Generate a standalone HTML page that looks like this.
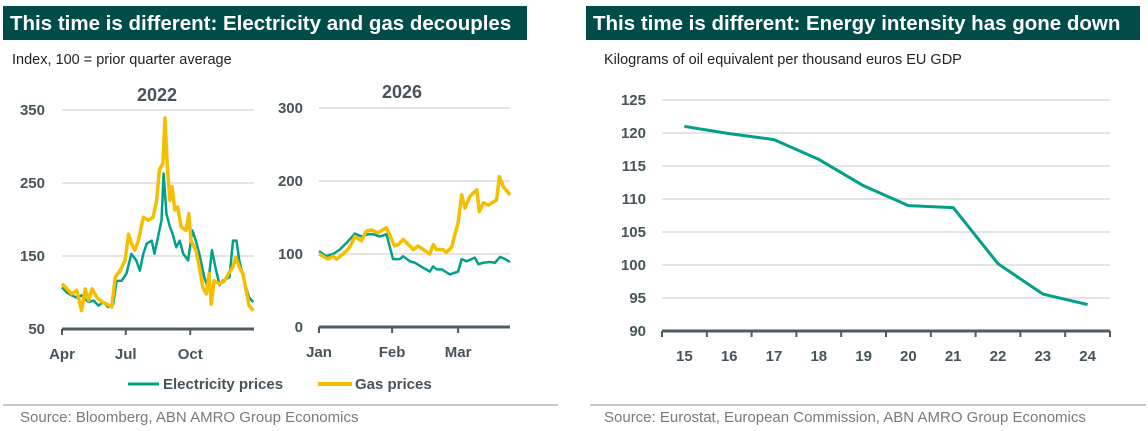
<!DOCTYPE html>
<html><head><meta charset="utf-8"><style>
body{margin:0;background:#fff;width:1148px;height:431px;overflow:hidden;font-family:"Liberation Sans",sans-serif}
svg{display:block}
.hd{font-weight:bold;font-size:20.5px;fill:#fff}
.tk{font-size:15px;font-weight:bold;fill:#46545a}
.sub{font-size:14.5px;fill:#222}
.src{font-size:15px;fill:#7a7a7a}
</style></head><body>
<svg id="c" width="1148" height="431">
<rect x="3" y="6" width="524" height="34" fill="#004c48"/>
<text x="10" y="30" class="hd">This time is different: Electricity and gas decouples</text>
<rect x="586" y="6" width="554" height="34" fill="#004c48"/>
<text x="593" y="30" class="hd">This time is different: Energy intensity has gone down</text>
<text x="12" y="64" class="sub">Index, 100 = prior quarter average</text>
<text x="604" y="64" class="sub">Kilograms of oil equivalent per thousand euros EU GDP</text>
<text x="157" y="101" class="tk" style="font-size:18px" text-anchor="middle">2022</text>
<text x="402" y="98" class="tk" style="font-size:18px" text-anchor="middle">2026</text>
<g id="g1"></g><g id="g2"></g><g id="g3"></g>
<line x1="128" y1="384" x2="159" y2="384" stroke="#00a08a" stroke-width="3"/>
<text x="163" y="389" class="tk">Electricity prices</text>
<line x1="318" y1="384" x2="352" y2="384" stroke="#f5bf00" stroke-width="4"/>
<text x="355" y="389" class="tk">Gas prices</text>
<line x1="3" y1="405" x2="558" y2="405" stroke="#c8c8c8" stroke-width="2"/>
<line x1="590" y1="405" x2="1146" y2="405" stroke="#c8c8c8" stroke-width="2"/>
<text x="20" y="422" class="src">Source: Bloomberg, ABN AMRO Group Economics</text>
<text x="604" y="422" class="src">Source: Eurostat, European Commission, ABN AMRO Group Economics</text>
</svg>
<script>
const gas22Days=[0,7,14,21,28,33,38,43,50,57,64,71,76,83,90,95,99,104,109,116,123,130,135,139,144,147,150,154,157,161,165,170,177,181,184,191,196,201,206,210,213,217,225,232,239,244,248,253,258,262,267,273];
const gas22Vals=[112,105,98,103,75,105,89,105,93,87,84,80,121,130,144,180,167,158,171,203,199,203,226,268,277,339,277,226,245,213,217,190,185,208,171,158,135,107,98,126,84,116,112,116,128,135,148,135,126,107,82,75];
const el22Days=[0,7,14,21,28,33,38,45,52,59,66,73,78,85,92,99,106,111,116,121,128,132,137,142,145,149,154,158,163,168,173,180,182,186,191,196,203,208,214,220,225,229,239,244,249,253,260,267,273];
const el22Vals=[107,100,96,93,96,91,87,89,82,87,80,84,116,116,126,153,144,130,153,167,171,153,176,199,263,208,190,180,162,171,153,144,158,185,171,153,121,107,158,130,110,116,121,171,171,144,116,93,87];
const gas26Days=[0,3.8,6,7.4,10.2,13,15.2,18,20,22.2,25,28.6,32,33.6,35.7,40,42,47,48.5,49.8,52.7,54,56.2,59,60.5,61.9,64,66.9,68,69.7,71.8,75.3,76.5,78.2,81];
const gas26Vals=[100,93,97,93,100,109,124,118,131,133,129,136,111,113,120,106,111,100,113,106,106,102,109,143,181,163,179,188,158,170,167,174,206,192,181];
const el26Days=[0,3,6,8.8,11.6,15.2,18,20.8,23,25.8,28.6,31.4,34.3,35.7,38.5,40.7,44.2,47,48.4,49.9,52,55.5,59,60.5,62.6,66.1,67.6,69.7,72.5,74.6,76.8,79,81];
const el26Vals=[104,97,100,106,115,128,124,127,127,124,127,93,93,97,90,88,81,76,83,79,79,72,76,93,90,95,86,88,89,88,96,93,89];
const ticks22=[50,150,250,350];
const months22=["Apr","Jul","Oct"];const month22Days=[0,91,183];
const ticks26=[0,100,200,300];
const months26=["Jan","Feb","Mar"];const month26Days=[0,31,59];
const years=["15","16","17","18","19","20","21","22","23","24"];
const intensity=[121,119.9,119,116,112,109,108.7,100.2,95.6,94];
const ticksR=[90,95,100,105,110,115,120,125];
const NS="http://www.w3.org/2000/svg";
function mk(p,t,a){const e=document.createElementNS(NS,t);for(const k in a)e.setAttribute(k,a[k]);p.appendChild(e);return e;}
function panel(g,x0,x1,dmax,ymin,ymax,yT,yB,ticks,months,mdays,series,lx,nm){
 const X=d=>x0+d*(x1-x0)/dmax, Y=v=>yB-(v-ymin)*(yB-yT)/(ymax-ymin);
 ticks.forEach(t=>{if(t!==ymin){const l=mk(g,'line',{x1:x0,x2:x1,y1:Y(t),y2:Y(t),stroke:'#dcdcdc','stroke-width':1.5});
 
 }
 const tx=mk(g,'text',{x:lx,y:Y(t)+5,'class':'tk','text-anchor':'end'});tx.textContent=t;
 
 });
 series.forEach(s=>{const pl=mk(g,'polyline',{points:s.d.map((d,i)=>X(d)+','+Y(s.v[i])).join(' '),fill:'none',stroke:s.c,'stroke-width':s.w,'stroke-linejoin':'round'});
 
 });
 const ax=mk(g,'line',{x1:x0,x2:x1,y1:yB,y2:yB,stroke:'#4e5b60','stroke-width':3});
 
 
 months.forEach((m,i)=>{mk(g,'line',{x1:X(mdays[i]),x2:X(mdays[i]),y1:yB,y2:yB+6,stroke:'#4e5b60','stroke-width':2});
 const t=mk(g,'text',{x:X(mdays[i]),y:yB+30,'class':'tk','text-anchor':'middle'});t.textContent=m;
 
 });
}
panel(document.getElementById('g1'),62,254,274,50,350,110,329,ticks22,months22,month22Days,
 [{d:el22Days,v:el22Vals,c:'#00a08a',w:2.5,n:'electricity'},{d:gas22Days,v:gas22Vals,c:'#f5bf00',w:3.5,n:'gas'}],45,'panel-2022');
panel(document.getElementById('g2'),319,510,81,0,300,108,327,ticks26,months26,month26Days,
 [{d:el26Days,v:el26Vals,c:'#00a08a',w:2.5,n:'electricity'},{d:gas26Days,v:gas26Vals,c:'#f5bf00',w:3.5,n:'gas'}],303,'panel-2026');
(function(){const g=document.getElementById('g3');const x0=662,x1=1110,yT=100,yB=331;
 const bw=(x1-x0)/years.length;const X=i=>x0+bw*(i+0.5),Y=v=>yB-(v-90)*(yB-yT)/35;
 ticksR.forEach(t=>{if(t!==90){const l=mk(g,'line',{x1:x0,x2:x1,y1:Y(t),y2:Y(t),stroke:'#dcdcdc','stroke-width':1.5});
 
 }
 const tx=mk(g,'text',{x:646,y:Y(t)+5,'class':'tk','text-anchor':'end'});tx.textContent=t;
 
 });
 const pl=mk(g,'polyline',{points:intensity.map((v,i)=>X(i)+','+Y(v)).join(' '),fill:'none',stroke:'#00a08a','stroke-width':3,'stroke-linejoin':'round'});
 
 
 const ax=mk(g,'line',{x1:x0,x2:x1,y1:yB,y2:yB,stroke:'#4e5b60','stroke-width':3});
 
 
 for(let i=0;i<=years.length;i++)mk(g,'line',{x1:x0+bw*i,x2:x0+bw*i,y1:yB,y2:yB+6,stroke:'#4e5b60','stroke-width':2});
 years.forEach((y,i)=>{const t=mk(g,'text',{x:X(i),y:yB+30,'class':'tk','text-anchor':'middle'});t.textContent=y;
 
 });
})();
document.querySelectorAll('text').forEach(t=>{t.style.fontStretch='105%';});
</script>
</body></html>
